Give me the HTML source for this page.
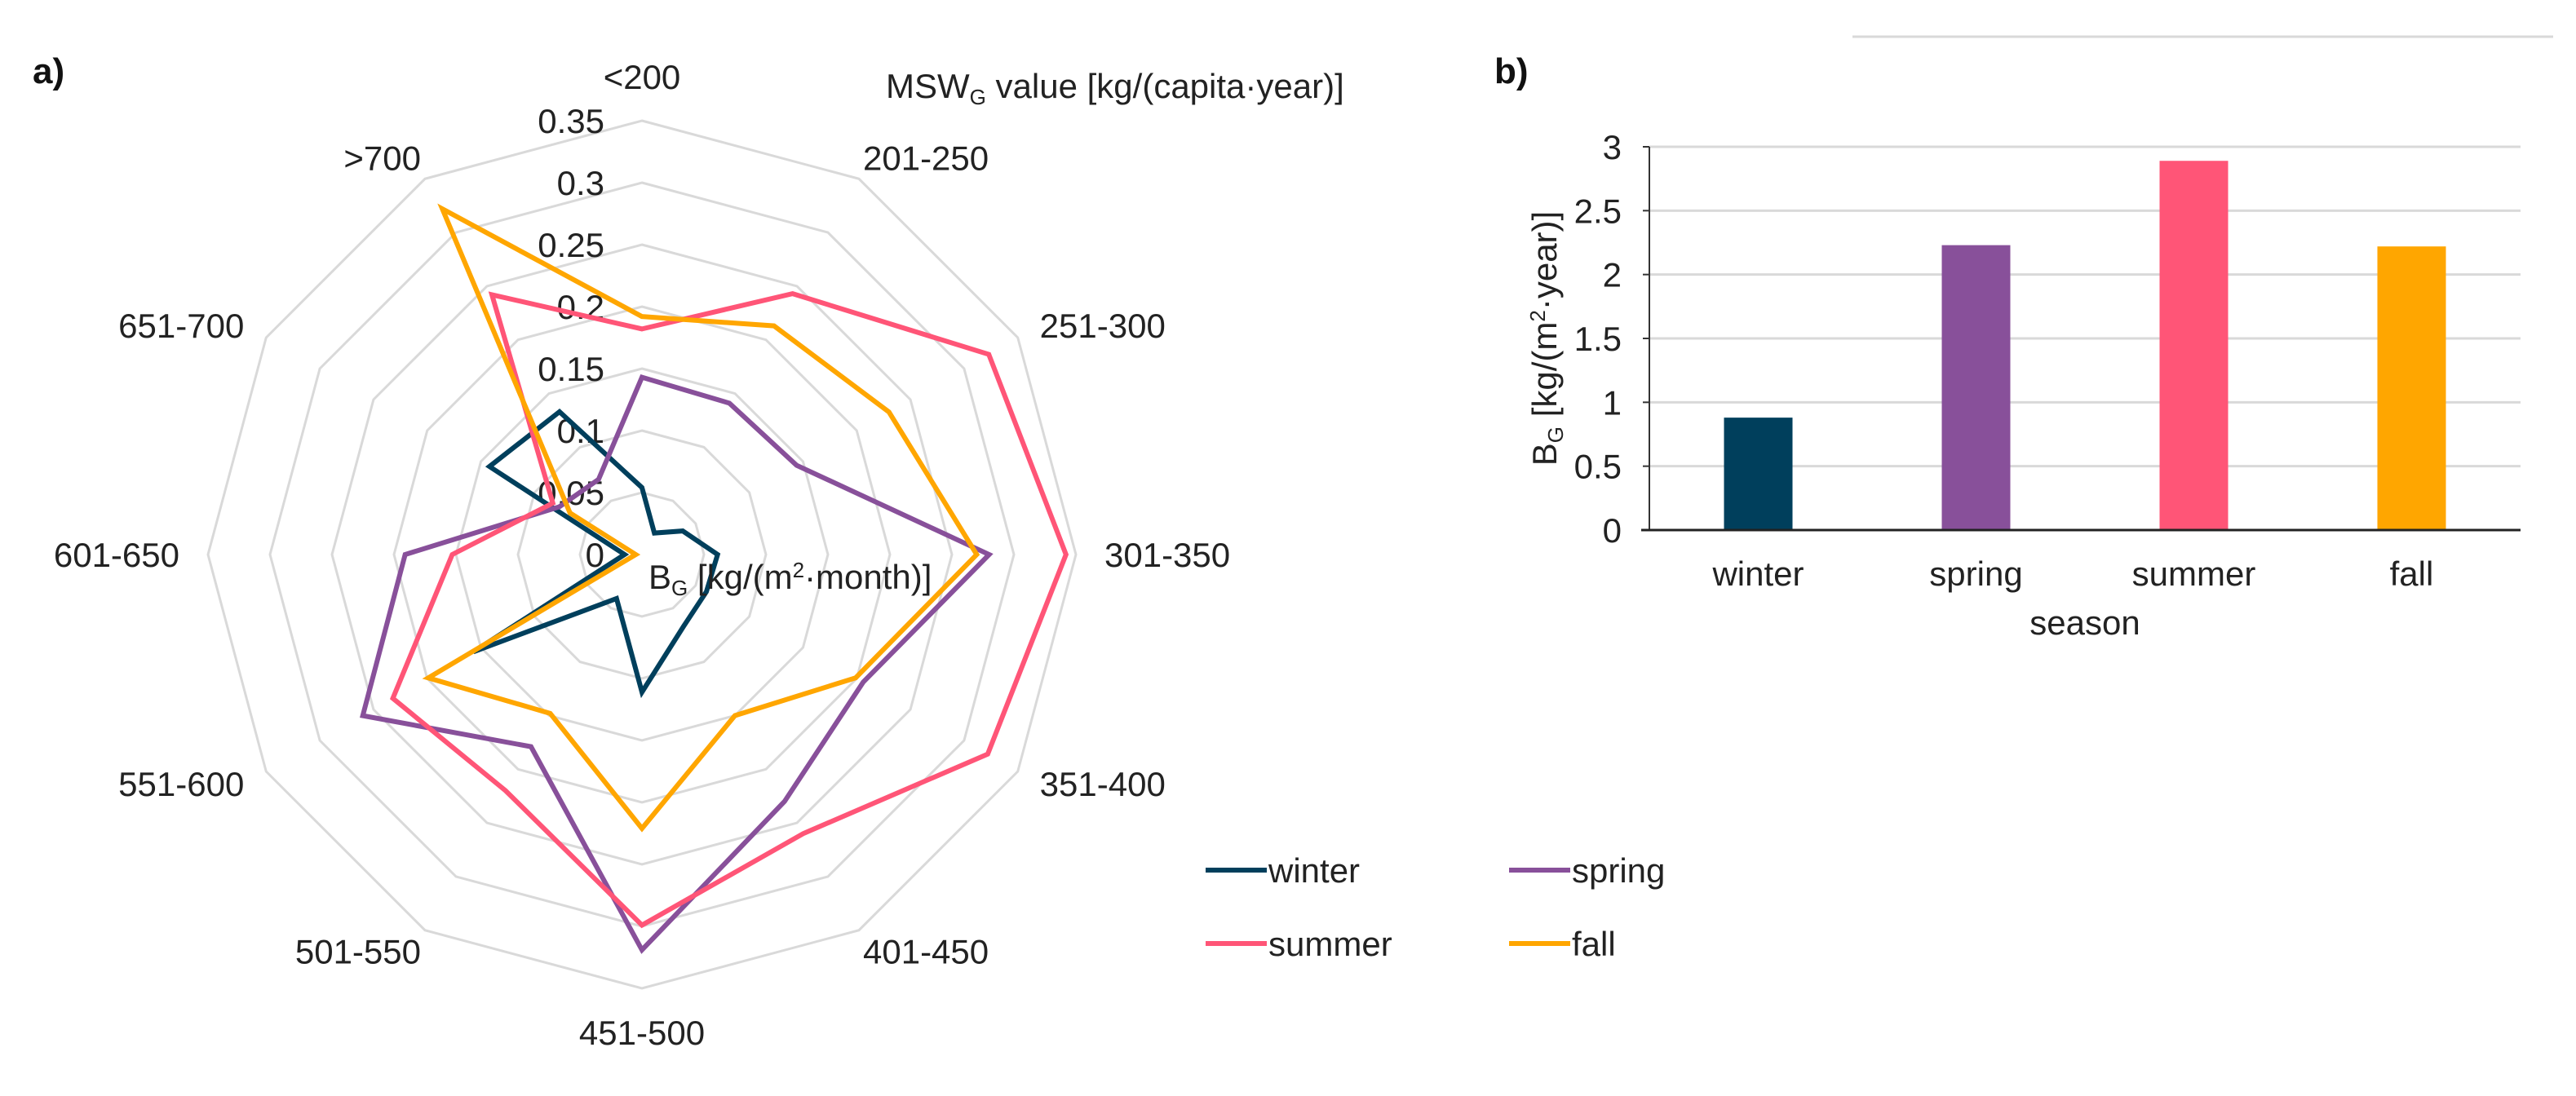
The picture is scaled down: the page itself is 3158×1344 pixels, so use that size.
<!DOCTYPE html>
<html><head><meta charset="utf-8">
<style>
html,body{margin:0;padding:0;background:#fff;}
svg{display:block;font-family:"Liberation Sans",Arial,sans-serif;}
</style></head>
<body>
<svg id="fig" width="3158" height="1344" viewBox="0 0 3158 1344" xmlns="http://www.w3.org/2000/svg">
  <rect width="3158" height="1344" fill="#fff"/>
  <text x="40" y="102" font-size="44" font-weight="bold" fill="#111">a)</text>
  <text x="1832" y="102" font-size="44" font-weight="bold" fill="#111">b)</text>
  <line x1="2271" y1="45" x2="3130" y2="45" stroke="#d9d9d9" stroke-width="3"/>
  <g id="radar"></g>
  <g id="bars"></g>
  <g id="legend"></g>
</svg>
<script>
// ---- Radar data ----
const radarCategories = ["<200","201-250","251-300","301-350","351-400","401-450","451-500","501-550","551-600","601-650","651-700",">700"];
const winterValues = [0.054,0.02,0.038,0.061,0.06,0.067,0.111,0.041,0.157,0.014,0.142,0.133];
const springValues = [0.143,0.141,0.144,0.28,0.206,0.23,0.319,0.179,0.26,0.191,0.077,0.07];
const summerValues = [0.182,0.243,0.323,0.342,0.322,0.26,0.299,0.22,0.232,0.153,0.083,0.242];
const fallValues = [0.192,0.213,0.23,0.27,0.199,0.15,0.221,0.148,0.199,0.005,0.067,0.322];
const radarTicks = ["0","0.05","0.1","0.15","0.2","0.25","0.3","0.35"];
// ---- Bar data ----
const barCategories = ["winter","spring","summer","fall"];
const barValues = [0.88,2.23,2.89,2.22];
const barTicks = ["0","0.5","1","1.5","2","2.5","3"];

const NS = "http://www.w3.org/2000/svg";
const colors = {winter:"#003f5c", spring:"#88509a", summer:"#ff5577", fall:"#ffa600"};
function mk(tag, attrs, parent){ const e=document.createElementNS(NS,tag); for(const k in attrs) e.setAttribute(k,attrs[k]); parent.appendChild(e); return e; }

// Radar
const radar = document.getElementById("radar");
const cx=787, cy=680, R=532, rMax=0.35;
const N = radarCategories.length;
function ang(i){ return i*2*Math.PI/N; }
function pt(i,v){ const r=v/rMax*R; return [cx+r*Math.sin(ang(i)), cy-r*Math.cos(ang(i))]; }
for(let t=1;t<radarTicks.length;t++){
  const v=parseFloat(radarTicks[t]);
  const pts=radarCategories.map((c,i)=>pt(i,v).join(",")).join(" ");
  const ring=mk("polygon",{points:pts,fill:"none",stroke:"#d9d9d9","stroke-width":3},radar);
  
  
}
radarTicks.forEach((lab)=>{
  const v=parseFloat(lab); const y=cy - v/rMax*R;
  const t=mk("text",{x:cx-46,y:y+15,"font-size":42,"text-anchor":"end",fill:"#222"},radar);
  t.textContent=lab;
  
  
});
radarCategories.forEach((c,i)=>{
  const s=Math.sin(ang(i)), co=Math.cos(ang(i));
  const ry = Math.abs(co)>0.99 ? 586 : 562;
  const x = cx + 592*s;
  const y = cy - ry*co;
  let anchor = Math.abs(s)<0.1 ? "middle" : (s>0 ? "start":"end");
  let xx = x + (Math.abs(s)<0.1?0:(s>0?-25:25));
  const t=mk("text",{x:xx,y:y+15,"font-size":42,"text-anchor":anchor,fill:"#222"},radar);
  t.textContent=c;
  
  
});
const series=[["winter",winterValues],["spring",springValues],["summer",summerValues],["fall",fallValues]];
series.forEach(([name,vals])=>{
  const pts=vals.map((v,i)=>pt(i,v).join(",")).join(" ");
  const p=mk("polygon",{points:pts,fill:"none",stroke:colors[name],"stroke-width":6,"stroke-linejoin":"miter"},radar);
  
  
});
{
  const t=mk("text",{x:1086,y:120,"font-size":42,fill:"#222"},radar);
  t.innerHTML='MSW<tspan font-size="26" dy="8">G</tspan><tspan dy="-8"> value [kg/(capita·year)]</tspan>';
  
  
  const u=mk("text",{x:795,y:722,"font-size":42,fill:"#222"},radar);
  u.innerHTML='B<tspan font-size="26" dy="8">G</tspan><tspan dy="-8"> [kg/(m</tspan><tspan font-size="26" dy="-14">2</tspan><tspan dy="14">·month)]</tspan>';
  
  
}

// Bars
const bars=document.getElementById("bars");
const x0=2022, x1=3090, y0=650, yTop=180, yMax=3;
function ys(v){ return y0-(v/yMax)*(y0-yTop); }
const bw=(x1-x0)/barCategories.length;
barTicks.forEach(lab=>{
  const v=parseFloat(lab), y=ys(v);
  if(v>0){ const g=mk("line",{x1:x0,y1:y,x2:x1,y2:y,stroke:"#d9d9d9","stroke-width":3},bars);
      }
  const tk=mk("line",{x1:x0-8,y1:y,x2:x0,y2:y,stroke:"#333","stroke-width":2},bars);
   
  const t=mk("text",{x:x0-34,y:y+15,"font-size":42,"text-anchor":"end",fill:"#222"},bars);
  t.textContent=lab;
   
});
barCategories.forEach((c,i)=>{
  const xc=x0+bw*(i+0.5);
  const r=mk("rect",{x:xc-42,y:ys(barValues[i]),width:84,height:y0-ys(barValues[i]),fill:colors[c]},bars);
   
  const t=mk("text",{x:xc,y:718,"font-size":42,"text-anchor":"middle",fill:"#222"},bars);
  t.textContent=c;
   
});
{
  const ax=mk("line",{x1:x0,y1:yTop,x2:x0,y2:y0,stroke:"#333","stroke-width":2},bars);
   
  const bx=mk("line",{x1:x0-10,y1:y0,x2:x1,y2:y0,stroke:"#222","stroke-width":3},bars);
   
  const t=mk("text",{x:(x0+x1)/2,y:778,"font-size":42,"text-anchor":"middle",fill:"#222"},bars);
  t.textContent="season";
   
  const yt=mk("text",{x:0,y:0,"font-size":42,"text-anchor":"middle",fill:"#222",transform:"translate(1908,415) rotate(-90)"},bars);
  yt.innerHTML='B<tspan font-size="26" dy="8">G</tspan><tspan dy="-8"> [kg/(m</tspan><tspan font-size="26" dy="-14">2</tspan><tspan dy="14">·year)]</tspan>';
   
}

// Legend
const legend=document.getElementById("legend");
const legendItems=[["winter",1478,1067],["spring",1850,1067],["summer",1478,1157],["fall",1850,1157]];
legendItems.forEach(([name,x,y])=>{
  const l=mk("line",{x1:x,y1:y,x2:x+75,y2:y,stroke:colors[name],"stroke-width":6},legend);
   
  const t=mk("text",{x:x+77,y:y+15,"font-size":42,fill:"#222"},legend);
  t.textContent=name;
   
});
</script>
</body></html>
